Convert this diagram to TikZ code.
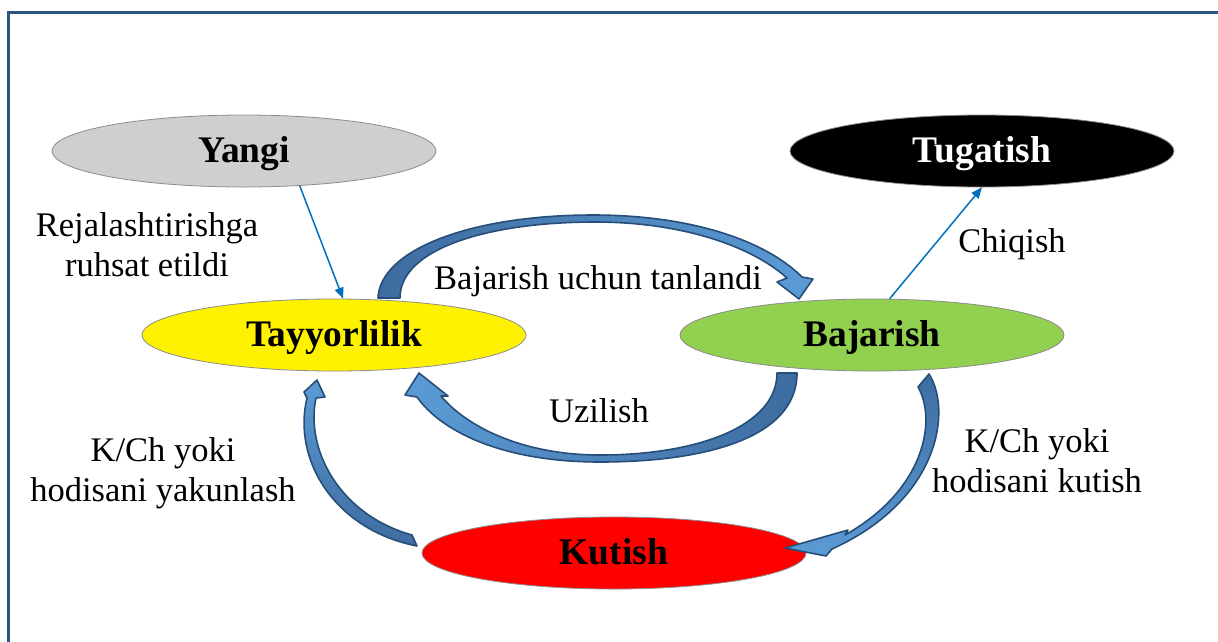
\documentclass[tikz,border=0pt]{standalone}
\usepackage{fontspec}
\setmainfont{Liberation Serif}
\usetikzlibrary{shapes.geometric,arrows.meta}
\definecolor{frameblue}{RGB}{46,84,130}
\definecolor{arrowdark}{RGB}{62,108,160}
\definecolor{arrowlight}{RGB}{91,155,213}
\definecolor{arrowedge}{RGB}{38,78,120}
\definecolor{linkblue}{RGB}{0,112,192}
\definecolor{stategreen}{RGB}{146,208,80}
\definecolor{stategray}{RGB}{207,207,207}
\definecolor{stateedge}{RGB}{140,140,140}
\begin{document}
\begin{tikzpicture}[x=1pt,y=-1pt,
  state/.style={ellipse, draw=stateedge, line width=0.8pt, minimum width=384pt, minimum height=72pt, inner sep=0pt, text height=22pt, text depth=0pt, font=\fontsize{37.5}{40}\selectfont\bfseries},
  lbl/.style={font=\fontsize{34.5}{40}\selectfont, align=center, inner sep=0pt},
  link/.style={draw=linkblue, line width=1.5pt, -{Triangle[length=11pt,width=9pt]}},
  block/.style={draw=arrowedge, line width=1.6pt, line join=round}
]
\useasboundingbox (0,0) rectangle (1218,641);
\clip (0,0) rectangle (1218,641);
\fill[white] (0,0) rectangle (1218,641);
\draw[frameblue, line width=3pt] (8,12) rectangle (1260,700);

% states
\node[state, fill=stategray] (yangi) at (244,151) {Yangi};
\node[state, fill=black, text=white] (tugatish) at (982,151) {Tugatish};
\node[state, fill=yellow] (tayyor) at (334,335) {Tayyorlilik};
\node[state, fill=stategreen] (bajarish) at (872,335) {Bajarish};
\node[state, fill=red] (kutish) at (614,553) {Kutish};

% thin connectors
\draw[link] (yangi.-32) -- (tayyor.76);
\draw[link] (bajarish.64) -- (tugatish.-90);

% block curved arrows
\path[block, left color=arrowdark, right color=arrowlight]
  (378,298) .. controls (380,250) and (470,215) .. (593,215)
  .. controls (690,215) and (765,240) .. (802,277)
  -- (813,279) -- (799,299) -- (777,282) -- (787,278)
  .. controls (750,245) and (680,222) .. (595,222)
  .. controls (490,222) and (400,248) .. (400,298) -- cycle;

\path[block, left color=arrowlight, right color=arrowdark]
  (797,373) .. controls (797,440) and (700,462) .. (600,462)
  .. controls (500,462) and (440,430) .. (417,397)
  -- (405,395) -- (419,373) -- (448,396) -- (441,396)
  .. controls (465,425) and (520,455) .. (600,455)
  .. controls (700,455) and (777,425) .. (777,373) -- cycle;

\path[block, top color=arrowlight, bottom color=arrowdark]
  (417,546) -- (412,535) .. controls (340,515) and (305,450) .. (316,398)
  -- (325,397) -- (317,380) -- (304,392) -- (307,398)
  .. controls (292,460) and (335,530) .. (417,546) -- cycle;

\path[block, top color=arrowdark, bottom color=arrowlight]
  (918,387) -- (929,374) .. controls (952,410) and (940,500) .. (832,549)
  -- (826,556) -- (785,548) -- (848,530) -- (845,535)
  .. controls (925,490) and (937,420) .. (918,387) -- cycle;

% labels
\node[lbl] (lrej) at (147,245) {Rejalashtirishga\\ruhsat etildi};
\node[lbl] (lsel) at (598,281) {Bajarish uchun tanlandi};
\node[lbl] (lchi) at (1012,244) {Chiqish};
\node[lbl] (luzi) at (599,411) {Uzilish};
\node[lbl] (lyak) at (163,473) {K/Ch yoki\\hodisani yakunlash};
\node[lbl] (lkut) at (1037,461) {K/Ch yoki\\hodisani kutish};
\end{tikzpicture}
\end{document}
